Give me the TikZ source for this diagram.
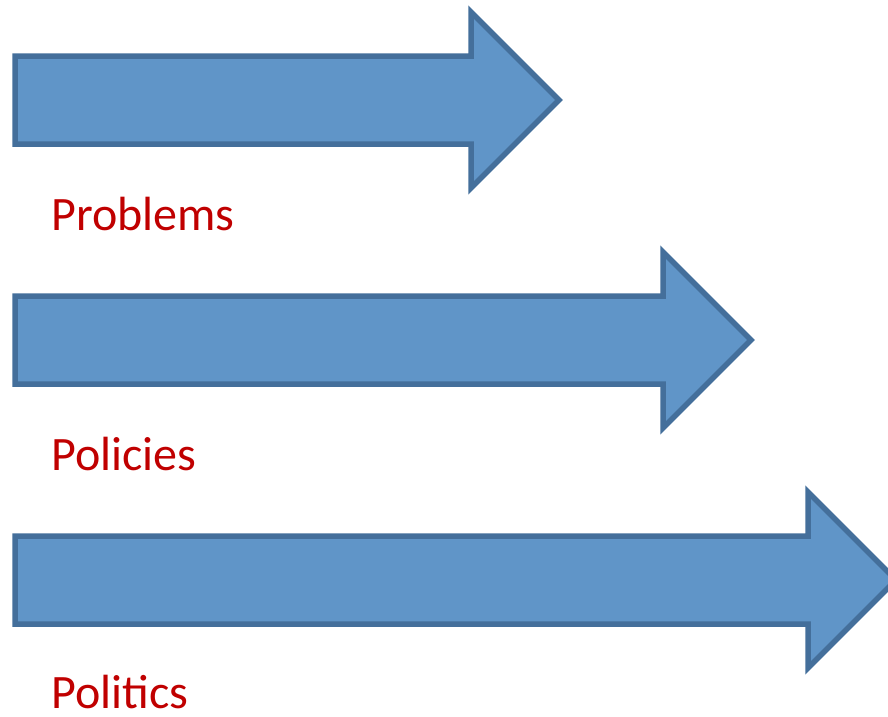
\documentclass[tikz,border=0pt]{standalone}
\usepackage{fontspec}
\setmainfont{Carlito}
\definecolor{arrowfill}{RGB}{96,149,200}
\definecolor{arrowline}{RGB}{68,111,155}
\definecolor{labelred}{RGB}{192,0,0}
\begin{document}
\begin{tikzpicture}[x=1pt,y=-1pt,
  bigarrow/.style={fill=arrowfill,draw=arrowline,line width=5.5pt,line join=miter},
  lbl/.style={anchor=base west,inner sep=0pt,text=labelred,font=\fontsize{48}{56}\selectfont}]
\useasboundingbox (0,0) rectangle (888,716);
\begin{scope}
\clip (0,0) rectangle (888,716);
\draw[bigarrow] (15,56) -- (471,56) -- (471,12) -- (559,100) -- (471,188) -- (471,144) -- (15,144) -- cycle;
\draw[bigarrow] (15,296) -- (663,296) -- (663,252) -- (751,340) -- (663,428) -- (663,384) -- (15,384) -- cycle;
\draw[bigarrow] (15,536) -- (808,536) -- (808,492) -- (896,580) -- (808,668) -- (808,624) -- (15,624) -- cycle;
\end{scope}
\node[lbl] (problems) at (51,230) {Problems};
\node[lbl] (policies) at (51,470) {Policies};
\node[lbl] (politics) at (51,708) {Politics};
\end{tikzpicture}
\end{document}
